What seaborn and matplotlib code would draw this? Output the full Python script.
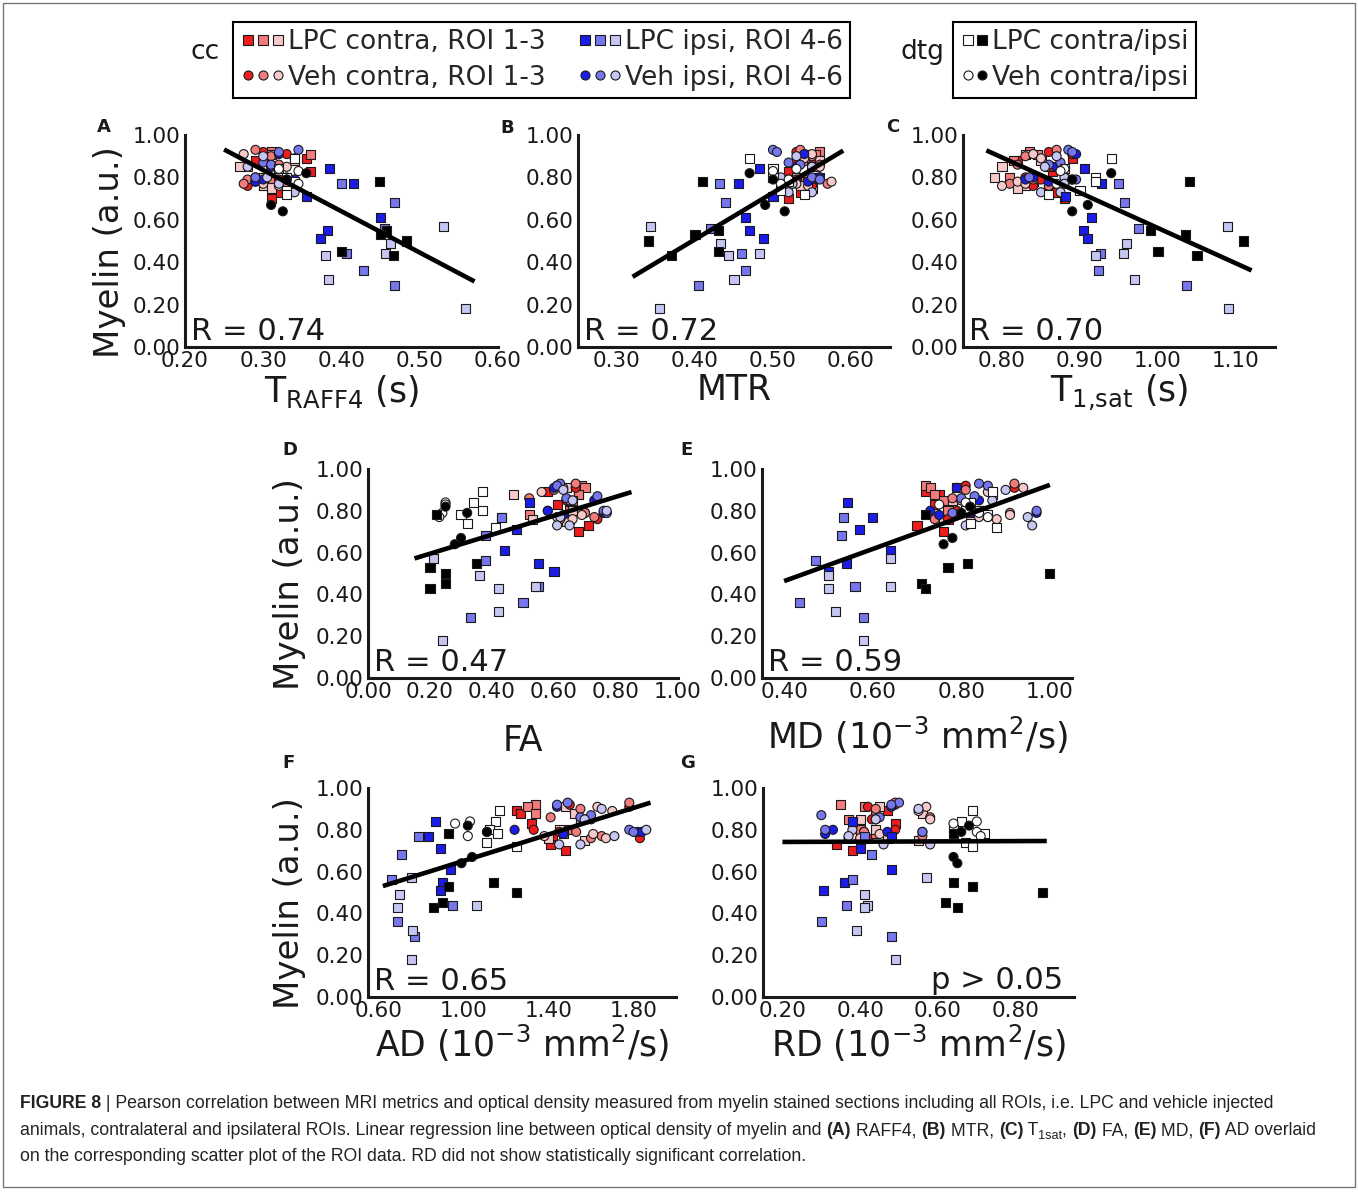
import numpy as np
import pandas as pd
import seaborn as sns
import matplotlib
matplotlib.use("Agg")
import matplotlib.pyplot as plt
from matplotlib.lines import Line2D
from matplotlib.legend_handler import HandlerTuple
from matplotlib.patches import Rectangle
from matplotlib import font_manager

# ---- data (myelin optical density vs MRI metrics), one dict per subgroup ----
metrics = ["traff4", "mtr", "t1sat", "fa", "md", "ad", "rd"]

# cc, LPC animals, contralateral ROI 1-3 (squares, red shades)
lpc_contra_roi1 = dict(myelin=[0.89, 0.88, 0.83, 0.76, 0.73, 0.70],
                       traff4=[0.355, 0.29, 0.36, 0.30, 0.32, 0.31],
                       mtr=[0.55, 0.53, 0.52, 0.54, 0.535, 0.52],
                       t1sat=[0.89, 0.82, 0.865, 0.86, 0.87, 0.88],
                       fa=[0.58, 0.68, 0.61, 0.65, 0.71, 0.68],
                       md=[0.72, 0.75, 0.74, 0.77, 0.70, 0.76],
                       ad=[1.25, 1.27, 1.32, 1.42, 1.41, 1.48],
                       rd=[0.47, 0.44, 0.49, 0.42, 0.34, 0.38])
lpc_contra_roi2 = dict(myelin=[0.92, 0.91, 0.88, 0.85, 0.80, 0.78],
                       traff4=[0.31, 0.36, 0.30, 0.28, 0.30, 0.31],
                       mtr=[0.56, 0.555, 0.54, 0.55, 0.56, 0.54],
                       t1sat=[0.835, 0.845, 0.815, 0.86, 0.81, 0.84],
                       fa=[0.69, 0.70, 0.68, 0.66, 0.65, 0.52],
                       md=[0.72, 0.73, 0.74, 0.76, 0.77, 0.78],
                       ad=[1.34, 1.30, 1.34, 1.55, 1.50, 1.47],
                       rd=[0.35, 0.41, 0.44, 0.37, 0.40, 0.44])
lpc_contra_roi3 = dict(myelin=[0.91, 0.88, 0.85, 0.80, 0.76, 0.75],
                       traff4=[0.31, 0.34, 0.27, 0.30, 0.30, 0.31],
                       mtr=[0.545, 0.56, 0.555, 0.53, 0.535, 0.55],
                       t1sat=[0.83, 0.85, 0.80, 0.79, 0.83, 0.82],
                       fa=[0.64, 0.47, 0.65, 0.66, 0.53, 0.64],
                       md=[0.79, 0.87, 0.78, 0.84, 0.76, 0.82],
                       ad=[1.48, 1.52, 1.55, 1.45, 1.40, 1.57],
                       rd=[0.45, 0.56, 0.40, 0.44, 0.47, 0.55])

# cc, vehicle animals, contralateral ROI 1-3 (circles, red shades)
veh_contra_roi1 = dict(myelin=[0.92, 0.91, 0.85, 0.80, 0.79, 0.76],
                       traff4=[0.30, 0.33, 0.31, 0.29, 0.32, 0.28],
                       mtr=[0.53, 0.54, 0.55, 0.56, 0.53, 0.55],
                       t1sat=[0.86, 0.89, 0.865, 0.83, 0.85, 0.84],
                       fa=[0.61, 0.67, 0.64, 0.58, 0.70, 0.74],
                       md=[0.81, 0.92, 0.80, 0.79, 0.83, 0.77],
                       ad=[1.50, 1.78, 1.58, 1.33, 1.45, 1.83],
                       rd=[0.49, 0.42, 0.43, 0.49, 0.41, 0.38])
veh_contra_roi2 = dict(myelin=[0.93, 0.90, 0.86, 0.79, 0.77, 0.76],
                       traff4=[0.29, 0.31, 0.32, 0.28, 0.275, 0.33],
                       mtr=[0.535, 0.55, 0.56, 0.545, 0.57, 0.52],
                       t1sat=[0.87, 0.83, 0.82, 0.84, 0.81, 0.86],
                       fa=[0.67, 0.60, 0.52, 0.70, 0.73, 0.62],
                       md=[0.92, 0.81, 0.78, 0.91, 0.86, 0.74],
                       ad=[1.78, 1.55, 1.41, 1.53, 1.65, 1.60],
                       rd=[0.49, 0.44, 0.58, 0.41, 0.56, 0.37])
veh_contra_roi3 = dict(myelin=[0.91, 0.89, 0.85, 0.78, 0.77, 0.76],
                       traff4=[0.275, 0.34, 0.33, 0.29, 0.30, 0.32],
                       mtr=[0.55, 0.54, 0.56, 0.575, 0.53, 0.545],
                       t1sat=[0.84, 0.85, 0.87, 0.82, 0.83, 0.80],
                       fa=[0.63, 0.56, 0.65, 0.69, 0.61, 0.66],
                       md=[0.94, 0.86, 0.80, 0.91, 0.84, 0.88],
                       ad=[1.63, 1.70, 1.56, 1.61, 1.38, 1.67],
                       rd=[0.57, 0.55, 0.58, 0.45, 0.38, 0.40])

# cc, vehicle animals, ipsilateral ROI 4-6 (circles, blue shades)
veh_ipsi_roi4 = dict(myelin=[0.91, 0.85, 0.80, 0.79, 0.79, 0.78],
                     traff4=[0.32, 0.31, 0.33, 0.30, 0.34, 0.29],
                     mtr=[0.54, 0.53, 0.56, 0.55, 0.52, 0.545],
                     t1sat=[0.895, 0.87, 0.84, 0.83, 0.885, 0.86],
                     fa=[0.60, 0.73, 0.58, 0.76, 0.77, 0.63],
                     md=[0.79, 0.84, 0.73, 0.97, 0.82, 0.75],
                     ad=[1.44, 1.60, 1.24, 1.82, 1.84, 1.47],
                     rd=[0.48, 0.44, 0.33, 0.47, 0.56, 0.31])
veh_ipsi_roi5 = dict(myelin=[0.93, 0.92, 0.87, 0.86, 0.80, 0.79],
                     traff4=[0.345, 0.32, 0.30, 0.31, 0.29, 0.33],
                     mtr=[0.50, 0.505, 0.52, 0.535, 0.55, 0.56],
                     t1sat=[0.885, 0.89, 0.875, 0.86, 0.835, 0.895],
                     fa=[0.62, 0.61, 0.74, 0.64, 0.76, 0.77],
                     md=[0.84, 0.86, 0.83, 0.80, 0.97, 0.78],
                     ad=[1.49, 1.44, 1.60, 1.55, 1.78, 1.80],
                     rd=[0.50, 0.48, 0.30, 0.45, 0.31, 0.56])
veh_ipsi_roi6 = dict(myelin=[0.90, 0.85, 0.80, 0.77, 0.73, 0.73],
                     traff4=[0.30, 0.28, 0.305, 0.32, 0.33, 0.34],
                     mtr=[0.53, 0.55, 0.51, 0.525, 0.52, 0.55],
                     t1sat=[0.87, 0.855, 0.88, 0.88, 0.875, 0.85],
                     fa=[0.63, 0.66, 0.77, 0.62, 0.61, 0.65],
                     md=[0.90, 0.87, 0.85, 0.95, 0.96, 0.81],
                     ad=[1.65, 1.57, 1.86, 1.71, 1.55, 1.45],
                     rd=[0.55, 0.44, 0.38, 0.37, 0.58, 0.46])

# cc, LPC animals, ipsilateral ROI 4-6 (squares, blue shades)
lpc_ipsi_roi4 = dict(myelin=[0.84, 0.77, 0.71, 0.61, 0.55, 0.51],
                     traff4=[0.385, 0.415, 0.355, 0.45, 0.382, 0.373],
                     mtr=[0.483, 0.456, 0.50, 0.465, 0.47, 0.488],
                     t1sat=[0.906, 0.927, 0.882, 0.915, 0.904, 0.909],
                     fa=[0.52, 0.43, 0.48, 0.44, 0.55, 0.60],
                     md=[0.544, 0.60, 0.57, 0.64, 0.54, 0.50],
                     ad=[0.87, 0.835, 0.89, 0.94, 0.90, 0.89],
                     rd=[0.38, 0.48, 0.40, 0.48, 0.36, 0.305])
lpc_ipsi_roi5 = dict(myelin=[0.77, 0.68, 0.56, 0.44, 0.36, 0.29],
                     traff4=[0.40, 0.468, 0.455, 0.407, 0.428, 0.468],
                     mtr=[0.432, 0.439, 0.42, 0.46, 0.465, 0.405],
                     t1sat=[0.949, 0.957, 0.975, 0.926, 0.924, 1.037],
                     fa=[0.43, 0.38, 0.38, 0.55, 0.50, 0.33],
                     md=[0.535, 0.53, 0.47, 0.56, 0.435, 0.58],
                     ad=[0.79, 0.71, 0.66, 0.95, 0.69, 0.77],
                     rd=[0.41, 0.43, 0.38, 0.365, 0.30, 0.48])
lpc_ipsi_roi6 = dict(myelin=[0.57, 0.49, 0.44, 0.43, 0.32, 0.18],
                     traff4=[0.53, 0.463, 0.456, 0.379, 0.384, 0.558],
                     mtr=[0.343, 0.433, 0.483, 0.443, 0.45, 0.355],
                     t1sat=[1.089, 0.96, 0.956, 0.92, 0.97, 1.09],
                     fa=[0.21, 0.36, 0.54, 0.42, 0.42, 0.24],
                     md=[0.64, 0.50, 0.64, 0.50, 0.515, 0.58],
                     ad=[0.755, 0.70, 1.06, 0.69, 0.76, 0.755],
                     rd=[0.57, 0.41, 0.42, 0.41, 0.39, 0.49])

# dtg ROIs
dtg_lpc_contra = dict(myelin=[0.89, 0.84, 0.80, 0.78, 0.74, 0.72],
                      traff4=[0.34, 0.32, 0.33, 0.34, 0.33, 0.33],
                      mtr=[0.47, 0.50, 0.50, 0.52, 0.51, 0.54],
                      t1sat=[0.94, 0.88, 0.92, 0.92, 0.90, 0.86],
                      fa=[0.37, 0.34, 0.37, 0.30, 0.32, 0.41],
                      md=[0.87, 0.82, 0.81, 0.86, 0.82, 0.88],
                      ad=[1.17, 1.15, 1.12, 1.16, 1.11, 1.25],
                      rd=[0.69, 0.66, 0.64, 0.72, 0.67, 0.69])
dtg_lpc_ipsi = dict(myelin=[0.78, 0.55, 0.53, 0.50, 0.45, 0.43],
                    traff4=[0.448, 0.458, 0.45, 0.483, 0.40, 0.467],
                    mtr=[0.41, 0.43, 0.40, 0.34, 0.43, 0.37],
                    t1sat=[1.04, 0.99, 1.035, 1.11, 1.00, 1.05],
                    fa=[0.22, 0.35, 0.20, 0.25, 0.25, 0.20],
                    md=[0.72, 0.815, 0.77, 1.00, 0.71, 0.72],
                    ad=[0.93, 1.14, 0.93, 1.25, 0.90, 0.86],
                    rd=[0.64, 0.64, 0.69, 0.87, 0.62, 0.65])
dtg_veh_contra = dict(myelin=[0.84, 0.83, 0.79, 0.77],
                      traff4=[0.32, 0.345, 0.33, 0.345],
                      mtr=[0.53, 0.50, 0.52, 0.51],
                      t1sat=[0.88, 0.875, 0.89, 0.87],
                      fa=[0.25, 0.25, 0.24, 0.23],
                      md=[0.81, 0.75, 0.84, 0.86],
                      ad=[1.03, 0.96, 1.11, 1.02],
                      rd=[0.70, 0.64, 0.70, 0.71])
dtg_veh_ipsi = dict(myelin=[0.82, 0.79, 0.67, 0.64],
                    traff4=[0.355, 0.33, 0.31, 0.325],
                    mtr=[0.47, 0.50, 0.49, 0.515],
                    t1sat=[0.94, 0.89, 0.91, 0.89],
                    fa=[0.25, 0.32, 0.30, 0.28],
                    md=[0.82, 0.80, 0.78, 0.76],
                    ad=[1.02, 1.11, 1.04, 0.99],
                    rd=[0.68, 0.66, 0.64, 0.65])

stats_text = ["R = 0.74", "R = 0.72", "R = 0.70", "R = 0.47", "R = 0.59", "R = 0.65", "p > 0.05"]
xlabels = [r"T$_{\mathrm{RAFF4}}$ (s)", "MTR", r"T$_{\mathrm{1{,}sat}}$ (s)", "FA",
           r"MD (10$^{-3}$ mm$^{2}$/s)", r"AD (10$^{-3}$ mm$^{2}$/s)", r"RD (10$^{-3}$ mm$^{2}$/s)"]
xticks = [[0.2, 0.3, 0.4, 0.5, 0.6], [0.3, 0.4, 0.5, 0.6], [0.8, 0.9, 1.0, 1.1],
          [0.0, 0.2, 0.4, 0.6, 0.8, 1.0], [0.4, 0.6, 0.8, 1.0], [0.6, 1.0, 1.4, 1.8], [0.2, 0.4, 0.6, 0.8]]
xlims = [(0.2, 0.6), (0.25, 0.65), (0.75, 1.15), (0.0, 1.0), (0.35, 1.05), (0.55, 2.0), (0.15, 0.95)]
fit_span = [(0.25, 0.57), (0.32, 0.59), (0.78, 1.12), (0.15, 0.85), (0.40, 1.00), (0.62, 1.88), (0.20, 0.88)]
panel_letters = ["A", "B", "C", "D", "E", "F", "G"]

# ---- styling ----
reds = ["#ee1d1d", "#f27b7b", "#f7c9c9"]
blues = ["#1c1ce8", "#7676ee", "#c6c6f3"]
groups = [
    ("lpc_contra_roi1", lpc_contra_roi1, reds[0], "s"),
    ("lpc_contra_roi2", lpc_contra_roi2, reds[1], "s"),
    ("lpc_contra_roi3", lpc_contra_roi3, reds[2], "s"),
    ("veh_contra_roi1", veh_contra_roi1, reds[0], "o"),
    ("veh_contra_roi2", veh_contra_roi2, reds[1], "o"),
    ("veh_contra_roi3", veh_contra_roi3, reds[2], "o"),
    ("veh_ipsi_roi4", veh_ipsi_roi4, blues[0], "o"),
    ("veh_ipsi_roi5", veh_ipsi_roi5, blues[1], "o"),
    ("veh_ipsi_roi6", veh_ipsi_roi6, blues[2], "o"),
    ("lpc_ipsi_roi4", lpc_ipsi_roi4, blues[0], "s"),
    ("lpc_ipsi_roi5", lpc_ipsi_roi5, blues[1], "s"),
    ("lpc_ipsi_roi6", lpc_ipsi_roi6, blues[2], "s"),
    ("dtg_lpc_contra", dtg_lpc_contra, "#ffffff", "s"),
    ("dtg_veh_contra", dtg_veh_contra, "#ffffff", "o"),
    ("dtg_lpc_ipsi", dtg_lpc_ipsi, "#000000", "s"),
    ("dtg_veh_ipsi", dtg_veh_ipsi, "#000000", "o"),
]

frames = []
for name, d, col, mk in groups:
    f = pd.DataFrame(d)
    f["group"] = name
    frames.append(f)
df = pd.concat(frames, ignore_index=True)
palette = {name: col for name, d, col, mk in groups}
markers = {name: mk for name, d, col, mk in groups}

sns.set_style("white")
plt.rcParams["font.family"] = ["DejaVu Sans"]
plt.rcParams["mathtext.fontset"] = "dejavusans"

W, H = 1358, 1195
fig = plt.figure(figsize=(W / 100, H / 100), dpi=100)

# axes boxes in pixels: left, top, width, height
boxes = [(185, 135, 313, 212), (578, 135, 312, 212), (963, 135, 312, 212),
         (368, 469, 310, 209), (762, 469, 310, 209),
         (368, 788, 308, 209), (763, 788, 311, 209)]
letter_pos = [(104, 127), (507, 128), (893, 127), (290, 450), (687, 450), (288, 763), (688, 763)]
xlabel_pad = [1, 1, 1, 16, 9, 1, 1]
ink = "#1a1a1a"

for i, m in enumerate(metrics):
    l, t, w, h = boxes[i]
    ax = fig.add_axes([l / W, 1 - (t + h) / H, w / W, h / H])
    sns.scatterplot(data=df, x=m, y="myelin", hue="group", style="group",
                    palette=palette, markers=markers, s=42, edgecolor=ink,
                    linewidth=0.8, legend=False, ax=ax, zorder=3)
    # least-squares regression line over all ROIs
    slope, icpt = np.polyfit(df[m], df["myelin"], 1)
    xs = np.array(fit_span[i])
    ax.plot(xs, slope * xs + icpt, color="black", lw=3.3, zorder=4, solid_capstyle="butt")

    ax.set_xlim(*xlims[i])
    ax.set_ylim(0, 1.0)
    ax.set_xticks(xticks[i])
    ax.set_yticks(np.arange(0, 1.01, 0.2))
    ax.xaxis.set_major_formatter(matplotlib.ticker.FormatStrFormatter("%.2f"))
    ax.yaxis.set_major_formatter(matplotlib.ticker.FormatStrFormatter("%.2f"))
    ax.tick_params(direction="in", length=4, width=1.8, labelsize=15.5,
                   colors=ink, pad=3)
    for side in ["top", "right"]:
        ax.spines[side].set_visible(False)
    for side in ["left", "bottom"]:
        ax.spines[side].set_linewidth(2.2)
        ax.spines[side].set_color(ink)
    ax.set_xlabel(xlabels[i], fontsize=25, color=ink, labelpad=xlabel_pad[i])
    if i in (0, 3, 5):
        ax.set_ylabel("Myelin (a.u.)", fontsize=24.5, color=ink)
        ax.yaxis.set_label_coords(-0.19 if i == 0 else -0.2, 0.45)
    else:
        ax.set_ylabel("")
    if stats_text[i].startswith("p"):
        ax.text(0.965, 0.04, stats_text[i], transform=ax.transAxes, ha="right",
                va="baseline", fontsize=22, color=ink)
    else:
        ax.text(0.02, 0.035, stats_text[i], transform=ax.transAxes, ha="left",
                va="baseline", fontsize=22, color=ink)
    lx, ly = letter_pos[i]
    fig.text(lx / W, 1 - ly / H, panel_letters[i], fontsize=13, fontweight="bold",
             ha="center", va="center", color=ink)

# ---- legends ----
def handles(colors, mk):
    return tuple(Line2D([], [], marker=mk, ls="none", mfc=c, mec=ink, mew=0.8, ms=6.5)
                 for c in colors)

leg_cc = fig.legend(handles=[handles(reds, "s"), handles(reds, "o"),
                             handles(blues, "s"), handles(blues, "o")],
                    labels=["LPC contra, ROI 1-3", "Veh contra, ROI 1-3",
                            "LPC ipsi, ROI 4-6", "Veh ipsi, ROI 4-6"],
                    handler_map={tuple: HandlerTuple(ndivide=None, pad=0.0)},
                    ncol=2, loc="upper left", bbox_to_anchor=(233 / W, 1 - 22 / H),
                    frameon=True, fancybox=False, edgecolor="black", framealpha=1,
                    fontsize=19, handlelength=1.7, handletextpad=0.1,
                    columnspacing=1.2, borderpad=0.28, labelspacing=0.35,
                    borderaxespad=0)
leg_cc.get_frame().set_linewidth(1.5)
leg_dtg = fig.legend(handles=[handles(["#ffffff", "#000000"], "s"),
                              handles(["#ffffff", "#000000"], "o")],
                     labels=["LPC contra/ipsi", "Veh contra/ipsi"],
                     handler_map={tuple: HandlerTuple(ndivide=None, pad=0.0)},
                     ncol=1, loc="upper left", bbox_to_anchor=(953 / W, 1 - 22 / H),
                     frameon=True, fancybox=False, edgecolor="black", framealpha=1,
                     fontsize=19, handlelength=1.1, handletextpad=0.1,
                     borderpad=0.28, labelspacing=0.35, borderaxespad=0)
leg_dtg.get_frame().set_linewidth(1.5)
fig.text(205 / W, 1 - 52 / H, "cc", fontsize=19, ha="center", va="center", color=ink)
fig.text(922 / W, 1 - 52 / H, "dtg", fontsize=19, ha="center", va="center", color=ink)

# ---- caption ----
names = {f.name for f in font_manager.fontManager.ttflist}
cap_font = "Liberation Sans Narrow" if "Liberation Sans Narrow" in names else "Liberation Sans"
cap_size = 15.5 if cap_font == "Liberation Sans Narrow" else 12.7
cax = fig.add_axes([0, 0, 1, 1])
cax.axis("off")
cax.set_xlim(0, 1)
cax.set_ylim(0, 1)

caption_lines = [
    [("FIGURE 8", "bold"), (" | Pearson correlation between MRI metrics and optical density measured from "
                            "myelin stained sections including all ROIs, i.e. LPC and vehicle injected", "normal")],
    [("animals, contralateral and ipsilateral ROIs. Linear regression line between optical density of myelin and ", "normal"),
     ("(A)", "bold"), (" RAFF4, ", "normal"), ("(B)", "bold"), (" MTR, ", "normal"), ("(C)", "bold"),
     (" T", "normal"), ("1sat", "sub"), (", ", "normal"), ("(D)", "bold"), (" FA, ", "normal"),
     ("(E)", "bold"), (" MD, ", "normal"), ("(F)", "bold"), (" AD overlaid", "normal")],
    [("on the corresponding scatter plot of the ROI data. RD did not show statistically significant correlation.", "normal")],
]
cap_baselines = [1108, 1135, 1161]
for line, yb in zip(caption_lines, cap_baselines):
    first_txt, first_style = line[0]
    prev = cax.text(20 / W, 1 - yb / H, first_txt, fontfamily=cap_font, fontsize=cap_size,
                    fontweight=first_style, ha="left", va="baseline", color="#222222")
    base = prev
    for txt, style in line[1:]:
        if style == "sub":
            prev = cax.annotate(txt, xy=(1, 0), xycoords=prev, xytext=(0, -2.5),
                                textcoords="offset points", fontfamily=cap_font,
                                fontsize=cap_size * 0.72, ha="left", va="bottom", color="#222222")
        else:
            prev = cax.annotate(txt, xy=(1, 0), xycoords=(prev, base), fontfamily=cap_font,
                                fontsize=cap_size, fontweight=style, ha="left", va="bottom",
                                color="#222222")
            base = prev

# frame around the figure
fig.add_artist(Rectangle((3 / W, 1 - 1187 / H), 1352 / W, 1184 / H, transform=fig.transFigure,
                         fill=False, edgecolor="#777777", lw=1.0))

fig.savefig("out.png", dpi=100)
